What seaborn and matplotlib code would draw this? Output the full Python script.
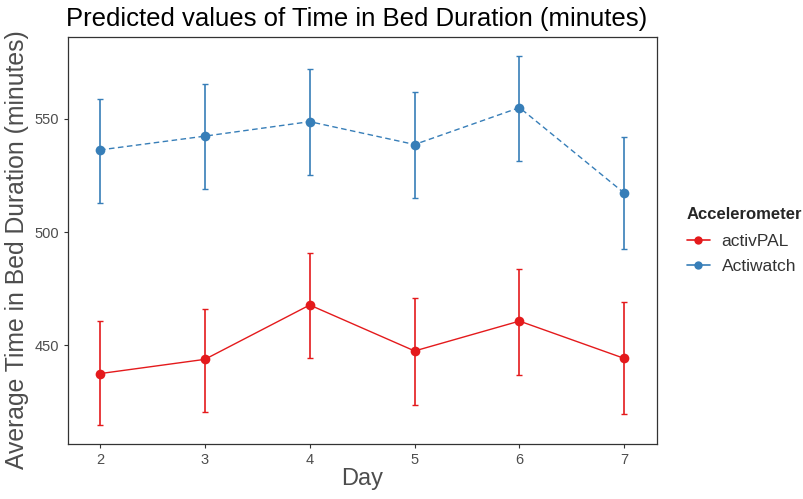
import numpy as np
import pandas as pd
import matplotlib
matplotlib.use("Agg")
import matplotlib.pyplot as plt
import seaborn as sns
from matplotlib.lines import Line2D

days = [2, 3, 4, 5, 6, 7]
groups = ["activPAL", "Actiwatch"]

pal_mean = [437.5, 443.8, 467.8, 447.5, 460.7, 444.2]
pal_low = [414.8, 420.6, 444.3, 423.7, 436.9, 419.8]
pal_high = [460.6, 466.2, 490.6, 470.9, 483.8, 469.0]

aw_mean = [536.3, 542.4, 548.8, 538.7, 555.0, 517.2]
aw_low = [512.8, 519.2, 525.4, 515.0, 531.2, 492.4]
aw_high = [559.0, 565.3, 572.1, 562.1, 577.8, 541.8]

colors = {"activPAL": "#E41A1C", "Actiwatch": "#377EB8"}

df = pd.DataFrame({
    "Day": days * 2,
    "Accelerometer": ["activPAL"] * 6 + ["Actiwatch"] * 6,
    "value": pal_mean + aw_mean,
    "low": pal_low + aw_low,
    "high": pal_high + aw_high,
})

sns.set_style("white")
plt.rcParams["font.family"] = ["Liberation Sans", "DejaVu Sans"]

fig = plt.figure(figsize=(8.04, 4.99), dpi=100)
ax = fig.add_axes([0.0846, 0.1102, 0.8170 - 0.0846, 0.9259 - 0.1102])

sns.lineplot(data=df, x="Day", y="value", hue="Accelerometer", style="Accelerometer",
             hue_order=groups, style_order=groups, palette=colors,
             dashes={"activPAL": "", "Actiwatch": (4, 2.5)},
             markers={"activPAL": "o", "Actiwatch": "o"}, markersize=7,
             markeredgewidth=0, linewidth=1.0, ax=ax, legend=False)

# confidence intervals
for g in groups:
    sub = df[df["Accelerometer"] == g]
    ax.errorbar(sub["Day"], sub["value"],
                yerr=[sub["value"] - sub["low"], sub["high"] - sub["value"]],
                fmt="none", ecolor=colors[g], elinewidth=1.2, capsize=2.5, capthick=1.0)

ax.set_xlim(1.695, 7.31)
ax.set_ylim(406.4, 586.2)
ax.set_yticks([450, 500, 550])
ax.set_xticks(days)
for s in ax.spines.values():
    s.set_color("#333333")
    s.set_linewidth(0.9)
ax.tick_params(axis="both", which="major", length=3, color="#333333",
               labelsize=10.5, labelcolor="#4D4D4D", direction="out", bottom=True, left=True)

ax.set_xlabel("Day", fontsize=17, color="#4D4D4D", labelpad=1)
ax.set_ylabel("Average Time in Bed Duration (minutes)", fontsize=17.8, color="#4D4D4D")
ax.yaxis.set_label_coords(-0.066, 0.478)
ax.set_title("Predicted values of Time in Bed Duration (minutes)", fontsize=18.5,
             loc="left", x=-0.003, pad=8, color="black")

handles = [Line2D([0], [0], color=colors[g], marker="o", markersize=6, linewidth=1.2,
                  markeredgewidth=0) for g in groups]
leg = fig.legend(handles, groups, title="Accelerometer", loc="upper left",
                 bbox_to_anchor=(0.835, 0.617), frameon=False, fontsize=12.5,
                 handlelength=1.3, labelspacing=0.55, handletextpad=0.7)
leg.get_title().set_fontweight("bold")
leg.get_title().set_fontsize(12)
leg._legend_box.align = "left"
leg._legend_box.sep = 9
for t in leg.get_texts():
    t.set_color("#333333")

fig.savefig("out.png", dpi=100)
